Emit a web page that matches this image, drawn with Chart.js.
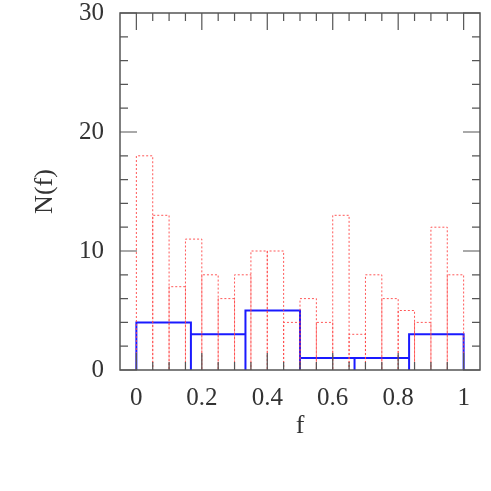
<!DOCTYPE html>
<html>
<head>
<meta charset="utf-8">
<script src="https://cdn.jsdelivr.net/npm/chart.js@4/dist/chart.umd.min.js"></script>
<style>
  html, body { margin: 0; padding: 0; background: #fff; }
  #wrap { width: 491px; height: 491px; position: relative; }
</style>
</head>
<body>
<div id="wrap"><canvas id="chart"></canvas></div>
<script>
// fine histogram (red dotted), bin width 0.05
const fineEdges = [0, 0.05, 0.1, 0.15, 0.2, 0.25, 0.3, 0.35, 0.4, 0.45, 0.5,
  0.55, 0.6, 0.65, 0.7, 0.75, 0.8, 0.85, 0.9, 0.95, 1];
const fineCounts = [18, 13, 7, 11, 8, 6, 8, 10, 10, 4, 6, 4, 13, 3, 8, 6, 5, 4, 12, 8];

// coarse histogram (blue solid), bin width 1/6
const coarseEdges = [0, 1 / 6, 2 / 6, 3 / 6, 4 / 6, 5 / 6, 1];
const coarseCounts = [4, 3, 5, 1, 1, 3];

const xTicks = [0, 0.2, 0.4, 0.6, 0.8, 1];
const yTicks = [0, 10, 20, 30];

// outline every bin as a box standing on zero
function boxes(edges, counts) {
  const pts = [];
  counts.forEach((c, i) => {
    pts.push({ x: edges[i], y: 0 });
    pts.push({ x: edges[i], y: c });
    pts.push({ x: edges[i + 1], y: c });
    pts.push({ x: edges[i + 1], y: 0 });
  });
  return pts;
}

// inward ticks + frame, drawn from the scales
const frameTicks = {
  id: "frameTicks",
  afterDraw(chart) {
    const { ctx, chartArea: a, scales: { x, y } } = chart;
    ctx.save();
    ctx.strokeStyle = "#555";
    ctx.lineWidth = 1.5;
    ctx.strokeRect(a.left, a.top, a.right - a.left, a.bottom - a.top);
    ctx.lineWidth = 1.2;
    ctx.beginPath();
    for (let v = 0; v <= 1.0001; v += 0.05) {
      const px = x.getPixelForValue(v);
      const major = Math.abs(v / 0.2 - Math.round(v / 0.2)) < 1e-6;
      const len = major ? 17 : 8;
      ctx.moveTo(px, a.bottom); ctx.lineTo(px, a.bottom - len);
      ctx.moveTo(px, a.top); ctx.lineTo(px, a.top + len);
    }
    for (let v = 0; v <= 30; v += 2) {
      const py = y.getPixelForValue(v);
      const len = v % 10 === 0 ? 17 : 8;
      ctx.moveTo(a.left, py); ctx.lineTo(a.left + len, py);
      ctx.moveTo(a.right, py); ctx.lineTo(a.right - len, py);
    }
    ctx.stroke();
    ctx.restore();
  }
};

const serif = "'Liberation Serif', 'DejaVu Serif', serif";

new Chart(document.getElementById("chart"), {
  type: "line",
  data: {
    datasets: [
      {
        data: boxes(fineEdges, fineCounts),
        borderColor: "rgba(255, 70, 70, 0.9)",
        borderWidth: 1,
        borderDash: [2, 2],
        pointRadius: 0,
        tension: 0,
        fill: false,
      },
      {
        data: boxes(coarseEdges, coarseCounts),
        borderColor: "#1a1aff",
        borderWidth: 2,
        pointRadius: 0,
        tension: 0,
        fill: false,
      },
    ],
  },
  options: {
    responsive: true,
    maintainAspectRatio: false,
    animation: false,
    events: [],
    layout: { padding: { top: 13, right: 11, left: 0, bottom: 0 } },
    plugins: { legend: { display: false }, tooltip: { enabled: false } },
    scales: {
      x: {
        type: "linear",
        min: -0.05,
        max: 1.05,
        afterBuildTicks: (s) => { s.ticks = xTicks.map((v) => ({ value: v })); },
        afterFit: (s) => { s.height = 121; s.paddingLeft = 0; s.paddingRight = 0; },
        grid: { display: false, drawTicks: false },
        border: { display: false },
        ticks: {
          padding: 13,
          color: "#333",
          font: { family: serif, size: 25 },
          maxRotation: 0,
          callback: (v) => String(+Number(v).toFixed(2)),
        },
        title: {
          display: true,
          text: "f",
          color: "#333",
          font: { family: serif, size: 26 },
          padding: { top: 0, bottom: 49 },
        },
      },
      y: {
        min: 0,
        max: 30,
        afterBuildTicks: (s) => { s.ticks = yTicks.map((v) => ({ value: v })); },
        afterFit: (s) => { s.width = 120; s.paddingTop = 0; s.paddingBottom = 0; },
        grid: { display: false, drawTicks: false },
        border: { display: false },
        ticks: {
          padding: 16,
          color: "#333",
          font: { family: serif, size: 25 },
        },
        title: {
          display: true,
          text: "N(f)",
          color: "#333",
          font: { family: serif, size: 26 },
          padding: { top: 30, bottom: 0 },
        },
      },
    },
  },
  plugins: [frameTicks],
});
</script>
</body>
</html>
